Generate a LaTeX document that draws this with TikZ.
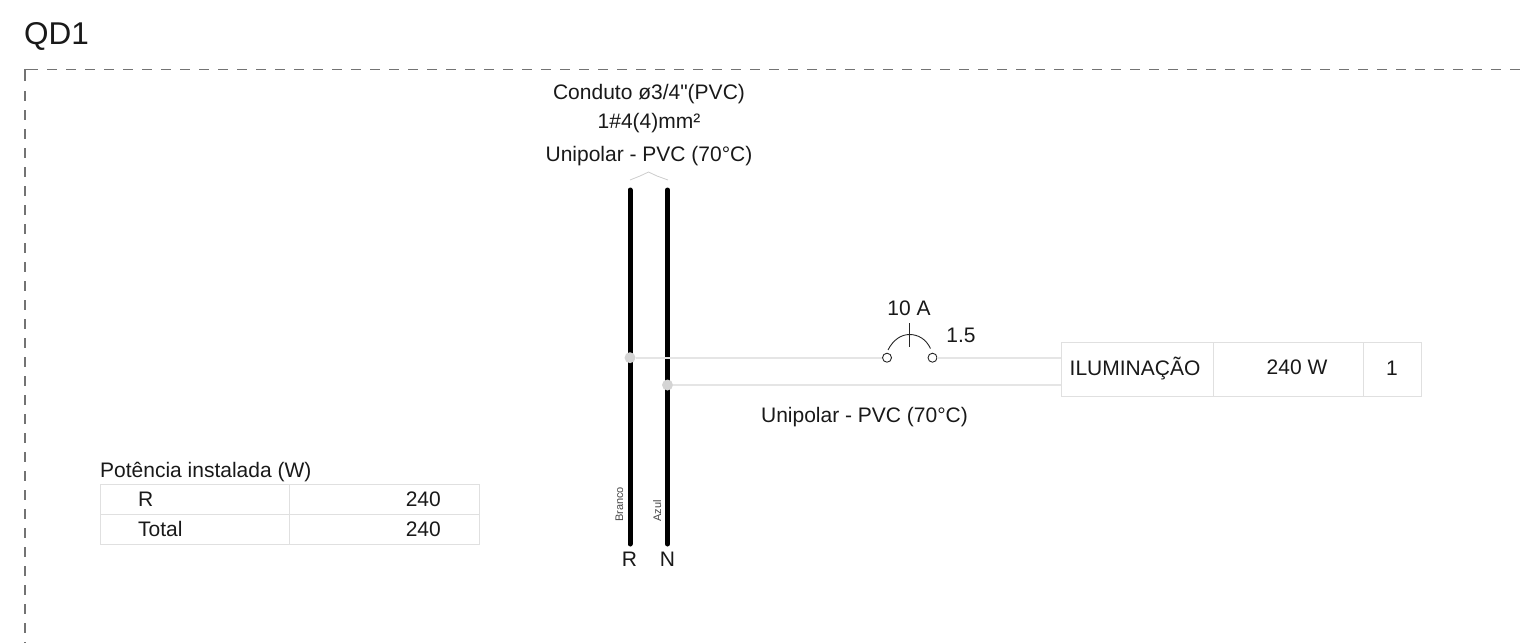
\documentclass[tikz,border=0pt]{standalone}
\usepackage{fontspec}
\setmainfont{Liberation Sans}
\newfontfamily\plainqf{Liberation Sans}
\tikzset{
  txt/.style={inner sep=0pt,font=\fontsize{21}{24}\selectfont,text=black!90},
  small/.style={inner sep=0pt,font=\fontsize{11}{13}\selectfont,text=black!72,rotate=90},
  grid/.style={draw=black!12,line width=1pt},
  feed/.style={draw=black!10,line width=1.6pt},
  bus/.style={draw=black,line width=5pt,line cap=round},
  tap/.style={circle,fill=black!17,draw=none,minimum size=11pt,inner sep=0pt},
  pole/.style={circle,draw=black!85,fill=white,line width=0.9pt,minimum size=9pt,inner sep=0pt},
  frame/.style={draw=black!55,line width=1.4pt},
  mech/.style={draw=black!85,line width=0.9pt}
}
\begin{document}
\begin{tikzpicture}[x=1pt,y=-1pt]
\useasboundingbox (0,0) rectangle (1522,643);
\node[inner sep=0pt,anchor=base west,font=\fontsize{31.5}{34}\selectfont,text=black!90] (title) at (24,44) {QD1};
% frame
\coordinate (ftl) at (25,69.7);
\coordinate (ftc) at (38,69.7);
\coordinate (ftd) at (47,69.7);
\coordinate (ftr) at (1522,69.7);
\coordinate (flc) at (25,81);
\coordinate (fld) at (25,91);
\coordinate (fbl) at (25,643);
\draw[frame] (flc) -- (ftl) -- (ftc);
\draw[frame,dash pattern=on 10pt off 9pt] (ftd) -- (ftr);
\draw[frame,dash pattern=on 10pt off 9pt] (fld) -- (fbl);
% conductor text
\node[txt,anchor=base] (c1) at (649,99) {Conduto ø3/4{\plainqf"}(PVC)};
\node[txt,anchor=base] (c2) at (649,128) {1\#4(4)mm²};
\node[txt,anchor=base] (c3) at (649,161) {Unipolar - PVC (70°C)};
% brace
\coordinate (b1) at (630,180);
\coordinate (b2) at (640,176);
\coordinate (b3) at (648.5,172);
\coordinate (b4) at (657,176);
\coordinate (b5) at (668,180);
\draw[draw=black!20,line width=0.8pt] (b1) -- (b2) -- (b3) -- (b4) -- (b5);
% buses
\coordinate (rtop) at (630,190);
\coordinate (rbot) at (630,544);
\coordinate (ntop) at (667.5,190);
\coordinate (nbot) at (667.5,544);
\draw[bus] (rtop) -- (rbot);
\draw[bus] (ntop) -- (nbot);
% load table
\node[draw=none,inner sep=0pt,minimum width=360pt,minimum height=54pt,anchor=north west] (load) at (1061,342) {};
\coordinate (d1t) at (1213,342);
\coordinate (d1b) at (1213,396);
\coordinate (d2t) at (1363,342);
\coordinate (d2b) at (1363,396);
\draw[grid] (load.north west) rectangle (load.south east);
\draw[grid] (d1t) -- (d1b);
\draw[grid] (d2t) -- (d2b);
\node[txt,anchor=base] (l1) at (1135,375) {ILUMINAÇÃO};
\node[txt,anchor=base] (l2) at (1297,374) {240 W};
\node[txt,anchor=base] (l3) at (1392,375) {1};
% circuit
\node[tap] (tr) at (630,357.7) {};
\node[tap] (tn) at (667.5,385) {};
\node[pole] (p1) at (887,357.7) {};
\node[pole] (p2) at (932.5,357.7) {};
\coordinate (lr) at (1061,357.7);
\coordinate (ln) at (1061,385);
\draw[feed] (tr) -- (p1);
\draw[feed] (p2) -- (lr);
\draw[feed] (tn) -- (ln);
\coordinate (a1) at (888,350);
\coordinate (a2) at (930.5,348.5);
\coordinate (m1) at (909.5,323);
\coordinate (m2) at (909.5,347);
\draw[mech] (a1) .. controls (893,340) and (901,334.5) .. (909.5,334.5) .. controls (918,334.5) and (926,339) .. (a2);
\draw[mech] (m1) -- (m2);
\node[txt,anchor=base] (amp) at (909,315) {10 A};
\node[txt,anchor=base] (sec) at (961,342) {1.5};
\node[txt,anchor=base] (ins) at (864.5,422) {Unipolar - PVC (70°C)};
% bus labels
\node[small,anchor=base west] (br) at (623,522) {Branco};
\node[small,anchor=base west] (az) at (661,522) {Azul};
\node[txt,anchor=base] (rl) at (629.5,566) {R};
\node[txt,anchor=base] (nl) at (667.5,566) {N};
% power table
\node[txt,anchor=base west] (pt) at (100,477) {Potência instalada (W)};
\node[draw=none,inner sep=0pt,minimum width=379pt,minimum height=60pt,anchor=north west] (pw) at (100,484) {};
\coordinate (h1) at (100,514);
\coordinate (h2) at (479,514);
\coordinate (v1) at (289.5,484);
\coordinate (v2) at (289.5,544);
\draw[grid] (pw.north west) rectangle (pw.south east);
\draw[grid] (h1) -- (h2);
\draw[grid] (v1) -- (v2);
\node[txt,anchor=base west] (r1) at (138,506) {R};
\node[txt,anchor=base east] (r2) at (441,506) {240};
\node[txt,anchor=base west] (r3) at (138,536) {Total};
\node[txt,anchor=base east] (r4) at (441,536) {240};
\end{tikzpicture}
\end{document}
